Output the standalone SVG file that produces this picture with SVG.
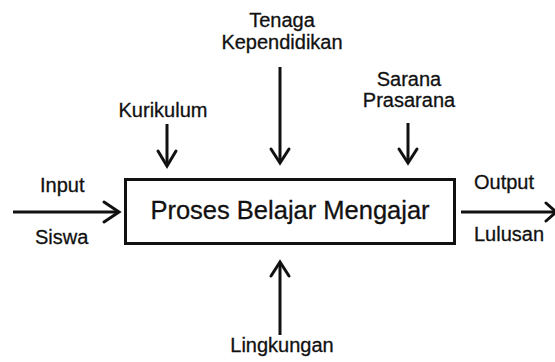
<svg xmlns="http://www.w3.org/2000/svg" width="555" height="362" viewBox="0 0 555 362">
<style>
.lbl{font-family:"Liberation Sans",Arial,sans-serif;font-size:20px;fill:#111;stroke:#111;stroke-width:0.3}
.main{font-family:"Liberation Sans",Arial,sans-serif;font-size:25.5px;fill:#111;stroke:#111;stroke-width:0.3}
.ln{stroke:#111;stroke-width:3;fill:none}
.hd{stroke:#111;stroke-width:3;fill:none;stroke-linecap:round;stroke-linejoin:miter}
</style>
<rect width="555" height="362" fill="#fff"/>
<g id="connectors">
<path class="ln" d="M13,212 H118"/><path class="hd" d="M104,202 L119,212 L104,222"/>
<path class="ln" d="M461,212 H555"/><path class="hd" d="M546,203 L556,212 L546,221"/>
<path class="ln" d="M167,124 V165"/><path class="hd" d="M158,151 L167,166 L176,151"/>
<path class="ln" d="M280,67 V161"/><path class="hd" d="M271,149 L280,163 L289,149"/>
<path class="ln" d="M408,123 V161"/><path class="hd" d="M399,149 L408,163 L417,149"/>
<path class="ln" d="M280,335 V263"/><path class="hd" d="M271,276 L280,262 L289,276"/>
</g>
<g id="process">
<rect x="125.5" y="179.5" width="329" height="64" fill="none" stroke="#111" stroke-width="3"/>
<text class="main" x="290" y="219" text-anchor="middle">Proses Belajar Mengajar</text>
</g>
<g id="tenaga"><text class="lbl" x="282" y="27" text-anchor="middle">Tenaga</text><text class="lbl" x="282" y="49" text-anchor="middle">Kependidikan</text></g>
<g id="kurikulum"><text class="lbl" x="163" y="117" text-anchor="middle">Kurikulum</text></g>
<g id="sarana"><text class="lbl" x="409" y="86" text-anchor="middle">Sarana</text><text class="lbl" x="409" y="107" text-anchor="middle">Prasarana</text></g>
<g id="input"><text class="lbl" x="40" y="192">Input</text><text class="lbl" x="35" y="244">Siswa</text></g>
<g id="output"><text class="lbl" x="474" y="189">Output</text><text class="lbl" x="474" y="241">Lulusan</text></g>
<g id="lingkungan"><text class="lbl" x="282" y="352" text-anchor="middle">Lingkungan</text></g>
</svg>
